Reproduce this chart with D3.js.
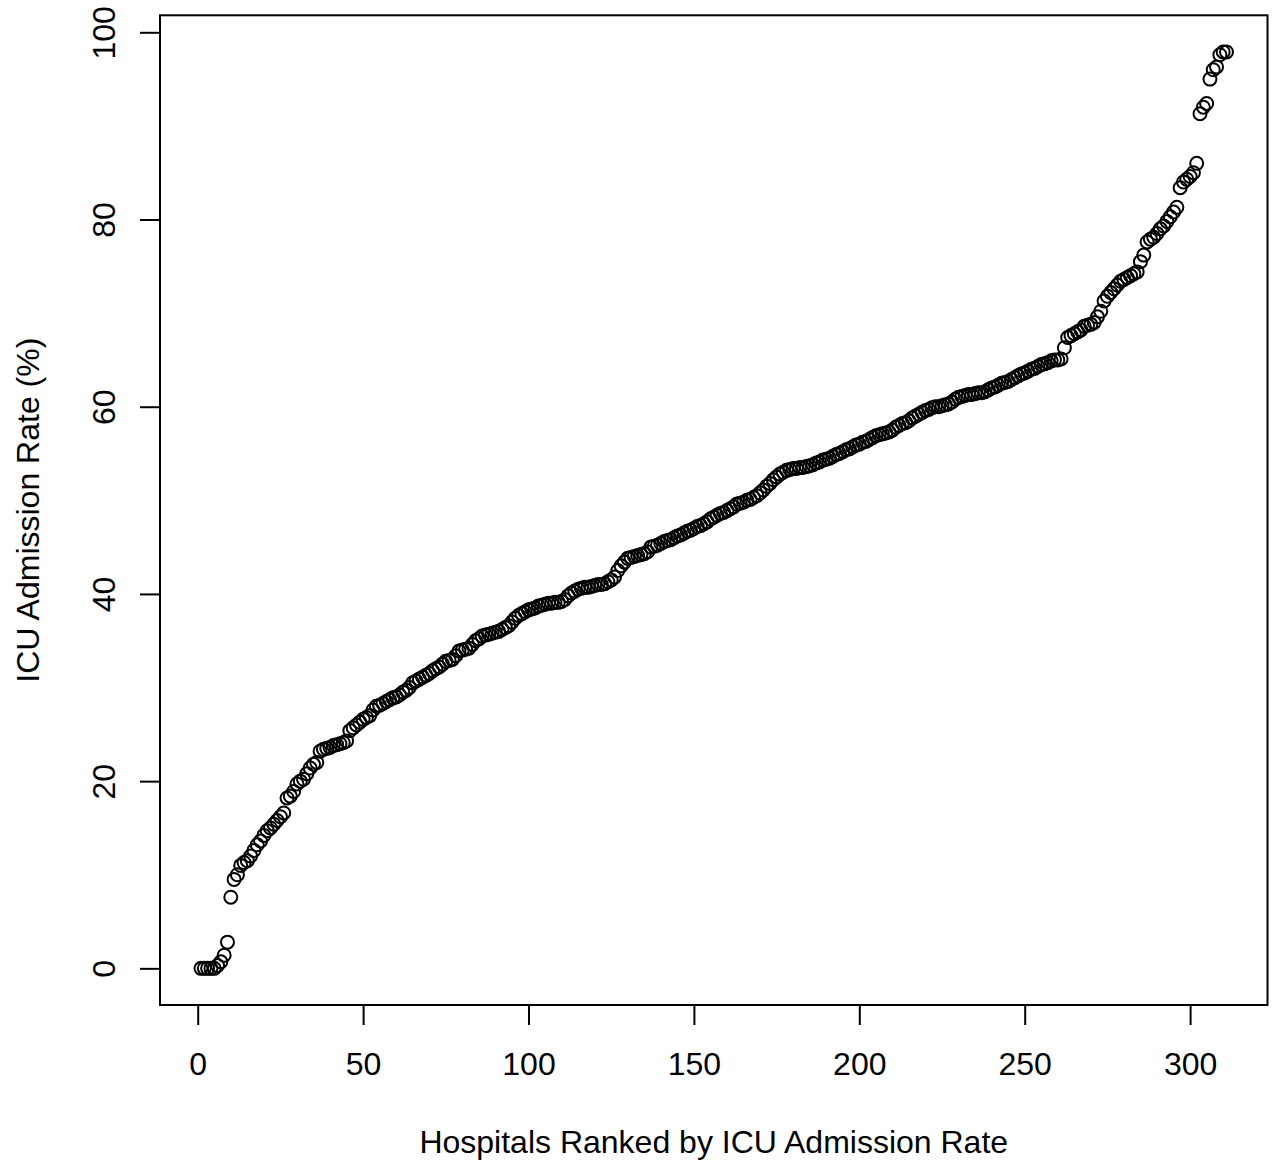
<!DOCTYPE html>
<html>
<head>
<meta charset="utf-8">
<script src="https://cdn.jsdelivr.net/npm/d3@7"></script>
<style>
  html,body{margin:0;padding:0;background:#fff;}
  svg{display:block;}
  text{font-family:"Liberation Sans",Arial,Helvetica,sans-serif;fill:#000;}
</style>
</head>
<body>
<div id="chart"></div>
<script>
// ICU admission rate (%) per hospital, sorted ascending (rank 1..311)
const rates=[
  0,0,0,0,0,0.3,0.7,1.4,2.8,7.6,
  9.5,10.0,11.0,11.3,11.5,12.0,12.6,13.2,13.6,14.2,
  14.7,15.0,15.4,15.8,16.2,16.6,18.2,18.4,18.9,19.7,
  20.0,20.2,20.8,21.4,21.8,22.0,23.2,23.4,23.5,23.6,
  23.8,23.9,24.0,24.1,24.3,25.4,25.7,26.0,26.3,26.6,
  26.8,27.0,27.6,28.0,28.1,28.3,28.5,28.7,28.9,29.0,
  29.2,29.5,29.7,30.0,30.5,30.7,30.9,31.1,31.3,31.5,
  31.8,32.0,32.2,32.5,32.8,32.9,33.0,33.4,33.9,34.0,
  34.1,34.2,34.6,35.0,35.2,35.5,35.6,35.7,35.8,35.9,
  36.0,36.2,36.4,36.6,37.0,37.4,37.7,37.9,38.1,38.3,
  38.4,38.5,38.7,38.8,38.9,39.0,39.0,39.1,39.1,39.2,
  39.4,39.8,40.1,40.3,40.5,40.6,40.7,40.7,40.8,40.9,
  41.0,41.0,41.1,41.3,41.5,41.8,42.5,43.0,43.4,43.8,
  43.9,44.0,44.1,44.2,44.3,44.5,45.0,45.1,45.2,45.4,
  45.6,45.7,45.8,46.0,46.2,46.3,46.5,46.7,46.8,47.0,
  47.2,47.3,47.5,47.7,48.0,48.2,48.4,48.6,48.7,48.9,
  49.1,49.3,49.6,49.7,49.8,50.0,50.1,50.3,50.5,50.8,
  51.1,51.5,51.8,52.2,52.5,52.8,53.0,53.2,53.3,53.4,
  53.4,53.5,53.5,53.6,53.7,53.8,54.0,54.1,54.3,54.4,
  54.5,54.7,54.9,55.0,55.2,55.4,55.5,55.7,55.9,56.0,
  56.2,56.3,56.5,56.7,56.9,57.0,57.1,57.2,57.3,57.5,
  57.8,58.0,58.2,58.3,58.5,58.8,59.0,59.2,59.4,59.6,
  59.7,59.9,60.0,60.0,60.1,60.2,60.3,60.5,60.8,61.0,
  61.1,61.2,61.3,61.3,61.4,61.5,61.5,61.6,61.8,62.0,
  62.1,62.3,62.5,62.6,62.7,62.9,63.1,63.3,63.5,63.6,
  63.8,64.0,64.1,64.3,64.5,64.6,64.7,64.9,65.0,65.0,
  65.1,66.3,67.4,67.6,67.8,68.0,68.2,68.6,68.7,68.8,
  69.0,69.6,70.2,71.3,71.8,72.2,72.6,73.0,73.4,73.6,
  73.8,74.0,74.2,74.4,75.5,76.2,77.6,77.9,78.1,78.5,
  79.0,79.3,79.8,80.3,80.8,81.3,83.4,84.0,84.3,84.6,
  85.0,86.0,91.3,92.0,92.4,95.0,96.0,96.3,97.6,97.9,
  97.9
];
const xTicks=[0,50,100,150,200,250,300];
const yTicks=[0,20,40,60,80,100];
const xTitle="Hospitals Ranked by ICU Admission Rate";
const yTitle="ICU Admission Rate (%)";

(function(){
  const W=1277,H=1163;
  const box={left:160,right:1267.5,top:15.3,bottom:1005};
  const fs=32;
  const data=rates.map((v,i)=>({rank:i+1,rate:v}));

  // R-style 4% padding of the data range
  const pad=([a,b])=>[a-(b-a)*0.04,b+(b-a)*0.04];
  const x=d3.scaleLinear().domain(pad(d3.extent(data,d=>d.rank))).range([box.left,box.right]);
  const y=d3.scaleLinear().domain(pad(d3.extent(data,d=>d.rate))).range([box.bottom,box.top]);

  const svg=d3.select("#chart").append("svg").attr("width",W).attr("height",H);

  svg.selectAll(".pt").data(data).join("circle")
    .attr("cx",d=>x(d.rank)).attr("cy",d=>y(d.rate)).attr("r",6.5)
    .attr("fill","none").attr("stroke","#000").attr("stroke-width",2);

  svg.append("rect")
    .attr("x",box.left).attr("y",box.top)
    .attr("width",box.right-box.left).attr("height",box.bottom-box.top)
    .attr("fill","none").attr("stroke","#000").attr("stroke-width",2);

  svg.append("g").attr("transform",`translate(0,${box.bottom})`)
    .call(d3.axisBottom(x).tickValues(xTicks).tickFormat(d3.format("d")).tickSize(20).tickPadding(0))
    .call(s=>s.select(".domain").remove())
    .call(s=>s.selectAll("line").attr("stroke","#000").attr("stroke-width",2))
    .call(s=>s.selectAll("text").attr("font-size",fs).attr("dy",null).attr("y",70)
      .attr("font-family",null).attr("fill","#000"));

  svg.append("g").attr("transform",`translate(${box.left},0)`)
    .call(d3.axisLeft(y).tickValues(yTicks).tickFormat(d3.format("d")).tickSize(20))
    .call(s=>s.select(".domain").remove())
    .call(s=>s.selectAll("line").attr("stroke","#000").attr("stroke-width",2))
    .call(s=>s.selectAll("text").attr("font-size",fs).attr("font-family",null).attr("fill","#000")
      .attr("x",null).attr("dy",null).attr("text-anchor","middle")
      .attr("transform","translate(-45,0) rotate(-90)"));

  svg.append("text")
    .attr("x",(box.left+box.right)/2).attr("y",1153)
    .attr("text-anchor","middle").attr("font-size",fs).text(xTitle);

  svg.append("text")
    .attr("transform",`translate(39,${(box.top+box.bottom)/2}) rotate(-90)`)
    .attr("text-anchor","middle").attr("font-size",fs).text(yTitle);
})();
</script>
</body>
</html>
